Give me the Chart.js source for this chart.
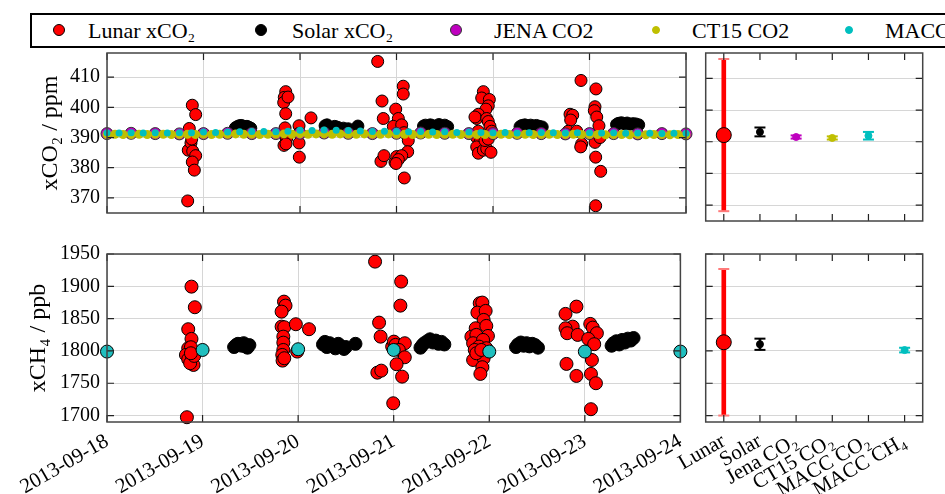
<!DOCTYPE html>
<html>
<head>
<meta charset="utf-8">
<script src="https://cdn.jsdelivr.net/npm/chart.js@4.4.1/dist/chart.umd.min.js"></script>
<style>
  html, body { margin: 0; padding: 0; background: #fff; }
  #wrap { position: relative; width: 945px; height: 494px; overflow: hidden; }
  #wrap canvas { position: absolute; }
  #legend { position: absolute; left: 30px; top: 13px; width: 960px; height: 35px; box-sizing: border-box;
            border: 2px solid #000; font-family: 'Liberation Serif', 'DejaVu Serif', serif; font-size: 22px; color: #000; }
  .item { position: absolute; top: 0; height: 31px; line-height: 31px; white-space: nowrap; }
  .dot { position: absolute; border-radius: 50%; box-sizing: border-box; }
</style>
</head>
<body>
<div id="wrap">
  <div id="legend"></div>
  <canvas id="co2Series" width="700" height="232" style="left:0;top:0"></canvas>
  <canvas id="co2Summary" width="345" height="232" style="left:600px;top:0"></canvas>
  <canvas id="ch4Series" width="700" height="262" style="left:0;top:232px"></canvas>
  <canvas id="ch4Summary" width="345" height="262" style="left:600px;top:232px"></canvas>
</div>
<script>
// ---- data ----
const dayLabels = ['2013-09-18', '2013-09-19', '2013-09-20', '2013-09-21', '2013-09-22', '2013-09-23', '2013-09-24'];

// days since 2013-09-18 00:00
const lunarCo2Time = [0.836, 0.884, 0.919, 0.853, 0.842, 0.870, 0.888, 0.919, 0.884, 0.905, 0.878,
  1.852, 1.837, 1.831, 1.876, 1.852, 1.845, 1.855, 1.862, 1.834, 1.855, 1.990, 1.990, 1.990, 1.993, 2.114,
  2.805, 2.850, 2.863, 2.839, 2.870, 2.984, 3.002, 2.992, 3.019, 3.002, 3.070, 3.070, 2.967, 3.054, 3.078, 3.122, 3.116, 3.054, 3.019, 2.995, 3.081,
  3.900, 3.883, 3.962, 3.951, 3.927, 3.848, 3.831, 3.813, 3.935, 3.951, 3.969, 3.986, 3.848, 3.883, 3.831, 3.865, 3.831, 3.848, 3.900, 3.935, 3.979, 3.917, 3.951,
  4.912, 5.067, 5.057, 5.050, 5.075, 5.098, 4.798, 4.826, 4.805, 4.780, 4.867, 5.057, 5.109, 4.919, 4.909, 5.064, 5.116, 5.064];
const lunarCo2 = [369.0, 400.7, 397.6, 393.0, 385.8, 388.2, 385.5, 384.0, 381.9, 379.2, 389.5,
  405.2, 403.3, 401.6, 403.4, 397.9, 393.2, 390.0, 389.7, 387.4, 387.9, 393.9, 391.4, 388.2, 383.5, 396.5,
  415.2, 402.1, 396.3, 382.1, 384.0, 381.8, 383.7, 399.4, 396.3, 392.6, 407.0, 404.4, 393.7, 394.2, 391.6, 389.0, 385.3, 384.0, 382.7, 381.4, 376.6,
  405.2, 403.1, 402.6, 400.5, 399.4, 397.7, 396.3, 396.8, 396.3, 395.3, 393.7, 392.1, 392.1, 390.5, 390.0, 388.4, 386.9, 384.8, 385.8, 386.3, 385.1, 389.0, 389.5,
  408.9, 406.1, 400.2, 398.9, 396.8, 393.9, 397.7, 397.4, 395.8, 392.1, 392.1, 388.4, 390.0, 387.9, 386.9, 383.5, 378.8, 367.4];

const lunarCh4Time = [0.836, 0.884, 0.919, 0.850, 0.884, 0.850, 0.878, 0.826, 0.850, 0.888, 0.905, 0.870, 0.912, 0.878,
  1.852, 1.868, 1.827, 1.827, 1.855, 1.845, 1.845, 1.845, 1.834, 1.837, 1.855, 1.976, 1.990, 2.114,
  2.805, 2.847, 2.863, 2.829, 2.870, 2.995, 2.984, 3.002, 3.078, 3.070, 3.019, 3.116, 3.054, 3.116, 3.030, 3.088,
  3.900, 3.927, 3.876, 3.962, 3.941, 3.858, 3.969, 3.813, 3.865, 3.986, 3.831, 3.935, 3.893, 3.969, 3.848, 3.831, 3.941, 3.927, 3.907, 3.865, 3.917,
  4.912, 4.798, 4.873, 4.798, 4.815, 4.925, 5.057, 5.083, 5.126, 5.036, 5.098, 5.074, 4.808, 4.912, 5.064, 5.116, 5.064];
const lunarCh4 = [1697.4, 1899.5, 1867.6, 1833.6, 1818.6, 1804.2, 1805.7, 1793.8, 1787.1, 1786.0, 1778.3, 1781.0, 1792.3, 1796.4,
  1876.3, 1870.1, 1860.8, 1837.6, 1836.7, 1822.1, 1812.8, 1801.5, 1793.8, 1785.0, 1788.7, 1841.3, 1799.0, 1833.6,
  1938.2, 1843.8, 1822.1, 1766.4, 1769.5, 1719.0, 1806.7, 1814.4, 1907.3, 1870.1, 1809.3, 1811.9, 1801.5, 1790.2, 1779.4, 1760.2,
  1873.8, 1874.8, 1859.3, 1861.9, 1848.0, 1835.1, 1838.7, 1822.1, 1824.8, 1823.2, 1811.9, 1817.0, 1806.7, 1804.2, 1801.5, 1786.0, 1788.7, 1774.8, 1764.4, 1796.4, 1801.5,
  1868.6, 1857.3, 1837.6, 1835.1, 1827.4, 1824.8, 1841.8, 1836.1, 1827.4, 1818.6, 1810.4, 1786.0, 1779.9, 1761.3, 1764.4, 1750.0, 1709.8];

const solarTime = [1.33, 1.35, 1.37, 1.39, 1.41, 1.43, 1.45, 1.47, 1.49,
  2.26, 2.28, 2.30, 2.33, 2.36, 2.39, 2.42, 2.45, 2.48, 2.50, 2.60,
  3.28, 3.30, 3.32, 3.35, 3.38, 3.41, 3.44, 3.47, 3.50, 3.53,
  4.28, 4.30, 4.33, 4.36, 4.39, 4.42, 4.45, 4.48, 4.51,
  5.28, 5.30, 5.33, 5.36, 5.39, 5.42, 5.45, 5.48, 5.51];
const solarCo2 = [393.2, 393.6, 393.9, 394.0, 393.8, 393.5, 393.7, 393.4, 393.1,
  393.9, 394.2, 393.5, 392.8, 393.7, 393.4, 392.6, 393.1, 392.5, 392.9, 393.8,
  393.8, 394.1, 393.6, 394.2, 393.9, 393.7, 394.3, 393.8, 394.1, 393.6,
  393.6, 394.0, 394.2, 393.9, 394.1, 393.8, 394.0, 393.7, 393.5,
  394.3, 394.7, 394.9, 394.6, 394.8, 394.4, 394.6, 394.5, 394.2];
const solarCh4 = [1806, 1809, 1811, 1810, 1808, 1812, 1807, 1805, 1809,
  1810, 1814, 1806, 1812, 1808, 1804, 1811, 1807, 1803, 1806, 1811,
  1805, 1809, 1812, 1815, 1818, 1813, 1816, 1811, 1814, 1810,
  1806, 1810, 1813, 1808, 1812, 1807, 1811, 1809, 1805,
  1808, 1812, 1815, 1810, 1817, 1813, 1819, 1816, 1820];

// model series, regular sampling from 2013-09-18 00:00
const jenaStepH = 6;
const jenaCo2 = [391.3, 391.4, 391.3, 391.2, 391.3, 391.4, 391.3, 391.3, 391.4, 391.5, 391.4, 391.3, 391.4,
  391.5, 391.4, 391.3, 391.3, 391.4, 391.3, 391.2, 391.3, 391.3, 391.2, 391.3, 391.2];
const ct15StepH = 2;
const ct15Co2 = [391.0, 391.1, 391.0, 391.0, 391.1, 391.0, 391.1, 391.1, 391.0, 391.0, 391.1, 391.0,
  391.1, 391.0, 391.1, 391.1, 391.2, 391.1, 391.1, 391.0, 391.1, 391.1, 391.2, 391.1,
  391.2, 391.1, 391.2, 391.2, 391.1, 391.2, 391.1, 391.1, 391.2, 391.1, 391.1, 391.2,
  391.1, 391.1, 391.0, 391.1, 391.1, 391.0, 391.1, 391.1, 391.0, 391.1, 391.0, 391.0,
  391.0, 391.1, 391.0, 391.0, 391.1, 391.0, 391.0, 391.1, 391.0, 391.0, 391.1, 391.0,
  391.0, 391.0, 390.9, 391.0, 391.0, 390.9, 391.0, 390.9, 391.0, 391.0, 390.9, 391.0,
  390.9];
const maccCo2StepH = 3;
const maccCo2 = [391.6, 391.5, 391.6, 391.5, 391.6, 391.5, 391.6, 391.6,
  391.8, 391.7, 391.8, 391.9, 392.0, 392.0, 391.9, 392.1,
  392.4, 392.3, 392.5, 392.4, 392.3, 392.2, 392.0, 392.1,
  392.0, 391.9, 392.0, 391.8, 391.9, 391.7, 391.8, 391.7,
  391.6, 391.7, 391.5, 391.6, 391.7, 391.6, 391.5, 391.6,
  391.6, 391.5, 391.6, 391.4, 391.5, 391.4, 391.3, 391.4,
  391.4];
const maccCh4StepH = 24;
const maccCh4 = [1799.0, 1801.5, 1802.6, 1801.5, 1799.0, 1799.0, 1799.0];

// summary panels (mean and error)
const summaryLabels = ['Lunar', 'Solar', 'Jena CO₂', 'CT15 CO₂', 'MACC CO₂', 'MACC CH₄'];
const summaryCo2 = [392.1, 393.1, 391.5, 391.2, 391.9, null];
const summaryCo2Err = [24.0, 1.4, 0.5, 0.5, 1.2, null];
const summaryCh4 = [1813.4, 1810.3, null, null, null, 1801.3];
const summaryCh4Err = [113.4, 8.7, null, null, null, 3.6];

const legendLabels = ['Lunar xCO₂', 'Solar xCO₂', 'JENA CO2', 'CT15 CO2', 'MACC CO2'];

// ---- styling ----
const serif = "'Liberation Serif', 'DejaVu Serif', serif";
const RED = '#ff0000', BLACK = '#000000', PURPLE = '#bf00bf', OLIVE = '#bfbf00', CYAN = '#00bfbf';
const summaryColors = [RED, BLACK, PURPLE, OLIVE, CYAN, CYAN];
const gridColor = '#d6d6d6';

// legend (html)
const legendDots = [{c: RED, r: 6, b: '#000'}, {c: BLACK, r: 6, b: '#000'}, {c: PURPLE, r: 6, b: '#333'}, {c: OLIVE, r: 4, b: OLIVE}, {c: CYAN, r: 4, b: CYAN}];
const legendDotX = [27, 229, 424, 624, 817];
const legendTextX = [56, 260, 462, 660, 853];
const legendEl = document.getElementById('legend');
legendLabels.forEach((txt, i) => {
  const d = document.createElement('span');
  const s = legendDots[i];
  d.className = 'dot';
  d.style.cssText = `left:${legendDotX[i] - s.r}px;top:${15 - s.r}px;width:${2 * s.r}px;height:${2 * s.r}px;background:${s.c};border:1px solid ${s.b}`;
  legendEl.appendChild(d);
  const t = document.createElement('span');
  t.className = 'item';
  t.style.left = legendTextX[i] + 'px';
  t.textContent = txt;
  legendEl.appendChild(t);
});

// inward tick marks + frame
const frame = {
  id: 'frame',
  afterDraw(chart) {
    const {ctx, chartArea: a, scales: {x, y}} = chart;
    ctx.save();
    ctx.strokeStyle = '#222';
    ctx.lineWidth = 1.2;
    ctx.beginPath();
    x.ticks.forEach((t, i) => {
      const p = x.getPixelForTick(i);
      ctx.moveTo(p, a.top); ctx.lineTo(p, a.top + 7);
      ctx.moveTo(p, a.bottom); ctx.lineTo(p, a.bottom - 7);
    });
    y.ticks.forEach((t, i) => {
      const p = y.getPixelForTick(i);
      ctx.moveTo(a.left, p); ctx.lineTo(a.left + 7, p);
      ctx.moveTo(a.right, p); ctx.lineTo(a.right - 7, p);
    });
    ctx.stroke();
    ctx.strokeStyle = '#444';
    ctx.lineWidth = 1.5;
    ctx.strokeRect(a.left, a.top, a.right - a.left, a.bottom - a.top);
    ctx.restore();
  }
};

const tickFont = {family: serif, size: 20};

function yAxis(min, max, step, width, title, titlePad) {
  return {
    type: 'linear', min: min, max: max,
    afterFit: s => { s.width = width; },
    ticks: {display: !!title, stepSize: step, includeBounds: false, padding: 7, color: '#000', font: tickFont,
      callback: v => String(v)},
    grid: {color: gridColor, drawTicks: false},
    border: {display: false},
    title: title ? {display: true, text: title, color: '#000', font: {family: serif, size: 24}, padding: {top: titlePad, bottom: 0}} : {display: false}
  };
}

function dayAxis(height, showLabels) {
  return {
    type: 'linear', min: 0, max: 6,
    afterFit: s => { s.height = height; },
    ticks: {display: showLabels, stepSize: 1, autoSkip: false, minRotation: 30, maxRotation: 30, padding: 7,
      color: '#000', font: {family: serif, size: 21}, callback: v => dayLabels[v]},
    grid: {color: gridColor, drawTicks: false},
    border: {display: false}
  };
}

function catAxis(height, showLabels) {
  return {
    type: 'category', offset: true,
    afterFit: s => { s.height = height; },
    ticks: {display: showLabels, autoSkip: false, minRotation: 30, maxRotation: 30, padding: 7, color: '#000',
      font: {family: serif, size: 21}},
    grid: {display: false, drawTicks: false},
    border: {display: false}
  };
}

function pts(times, values) { return values.map((v, i) => ({x: times[i], y: v})); }
function regular(stepH, values) { return values.map((v, i) => ({x: i * stepH / 24, y: v})); }

const common = {
  responsive: false, animation: false, events: [],
  plugins: {legend: {display: false}, tooltip: {enabled: false}}
};

// ---- time series: CO2 ----
new Chart(document.getElementById('co2Series'), {
  type: 'scatter',
  data: {datasets: [
    {data: pts(lunarCo2Time, lunarCo2), backgroundColor: RED, borderColor: BLACK, borderWidth: 1, pointRadius: 6, order: 5, clip: false},
    {data: pts(solarTime, solarCo2), backgroundColor: BLACK, borderColor: BLACK, borderWidth: 1, pointRadius: 6, order: 4, clip: false},
    {data: regular(jenaStepH, jenaCo2), backgroundColor: PURPLE, borderColor: '#333', borderWidth: 1, pointRadius: 6, order: 3, clip: false},
    {data: regular(ct15StepH, ct15Co2), backgroundColor: OLIVE, borderWidth: 0, pointRadius: 4.5, order: 2, clip: false},
    {data: regular(maccCo2StepH, maccCo2), backgroundColor: CYAN, borderWidth: 0, pointRadius: 3.5, order: 1, clip: false}
  ]},
  options: Object.assign({}, common, {
    layout: {autoPadding: false, padding: {left: 0, right: 14, top: 53, bottom: 11}},
    scales: {x: dayAxis(0, false), y: yAxis(365, 418, 10, 107, 'xCO₂ / ppm', 36)}
  }),
  plugins: [frame]
});

// ---- time series: CH4 ----
new Chart(document.getElementById('ch4Series'), {
  type: 'scatter',
  data: {datasets: [
    {data: pts(lunarCh4Time, lunarCh4), backgroundColor: RED, borderColor: BLACK, borderWidth: 1, pointRadius: 6.5, order: 3, clip: false},
    {data: pts(solarTime, solarCh4), backgroundColor: BLACK, borderColor: BLACK, borderWidth: 1, pointRadius: 6.5, order: 2, clip: false},
    {data: regular(maccCh4StepH, maccCh4), backgroundColor: '#20bfbf', borderColor: BLACK, borderWidth: 1, pointRadius: 6.5, order: 1, clip: false}
  ]},
  options: Object.assign({}, common, {
    layout: {autoPadding: false, padding: {left: 0, right: 14, top: 22, bottom: 0}},
    scales: {x: dayAxis(72, true), y: yAxis(1690, 1950, 50, 107, 'xCH₄ / ppb', 24)}
  }),
  plugins: [frame]
});

// ---- summary panels ----
function summaryDatasets(mean, err) {
  const lunarBar = mean.map((m, i) => (i === 0 && m != null) ? [m - err[i], m + err[i]] : null);
  const otherBar = mean.map((m, i) => (i > 0 && m != null) ? [m - err[i], m + err[i]] : null);
  const low = mean.map((m, i) => m == null ? null : m - err[i]);
  const high = mean.map((m, i) => m == null ? null : m + err[i]);
  const capColors = summaryColors.map((c, i) => i === 0 ? '#ff7a7a' : c);
  const cap = d => ({type: 'line', data: d, showLine: false, pointStyle: 'line', pointRadius: 5.5,
    pointBorderWidth: 2, pointBorderColor: capColors, pointBackgroundColor: capColors, order: 2, clip: false});
  return [
    {type: 'bar', data: lunarBar, barThickness: 4, backgroundColor: RED, grouped: false, order: 3},
    {type: 'bar', data: otherBar, barThickness: 2, backgroundColor: summaryColors, grouped: false, order: 3},
    cap(low), cap(high),
    {type: 'line', data: mean, showLine: false, pointStyle: 'circle',
      pointRadius: summaryColors.map((c, i) => i === 0 ? 7.5 : 3.5),
      pointBackgroundColor: summaryColors,
      pointBorderColor: summaryColors.map((c, i) => i === 0 ? BLACK : c),
      pointBorderWidth: 1, order: 1, clip: false}
  ];
}

new Chart(document.getElementById('co2Summary'), {
  type: 'bar',
  data: {labels: summaryLabels, datasets: summaryDatasets(summaryCo2, summaryCo2Err)},
  options: Object.assign({}, common, {
    layout: {autoPadding: false, padding: {left: 105.7, right: 22.3, top: 53, bottom: 11}},
    scales: {x: catAxis(0, false), y: yAxis(365, 418, 10, 0, null, 0)}
  }),
  plugins: [frame]
});

new Chart(document.getElementById('ch4Summary'), {
  type: 'bar',
  data: {labels: summaryLabels, datasets: summaryDatasets(summaryCh4, summaryCh4Err)},
  options: Object.assign({}, common, {
    layout: {autoPadding: false, padding: {left: 105.7, right: 22.3, top: 22, bottom: 0}},
    scales: {x: catAxis(72, true), y: yAxis(1690, 1950, 50, 0, null, 0)}
  }),
  plugins: [frame]
});
</script>
</body>
</html>
